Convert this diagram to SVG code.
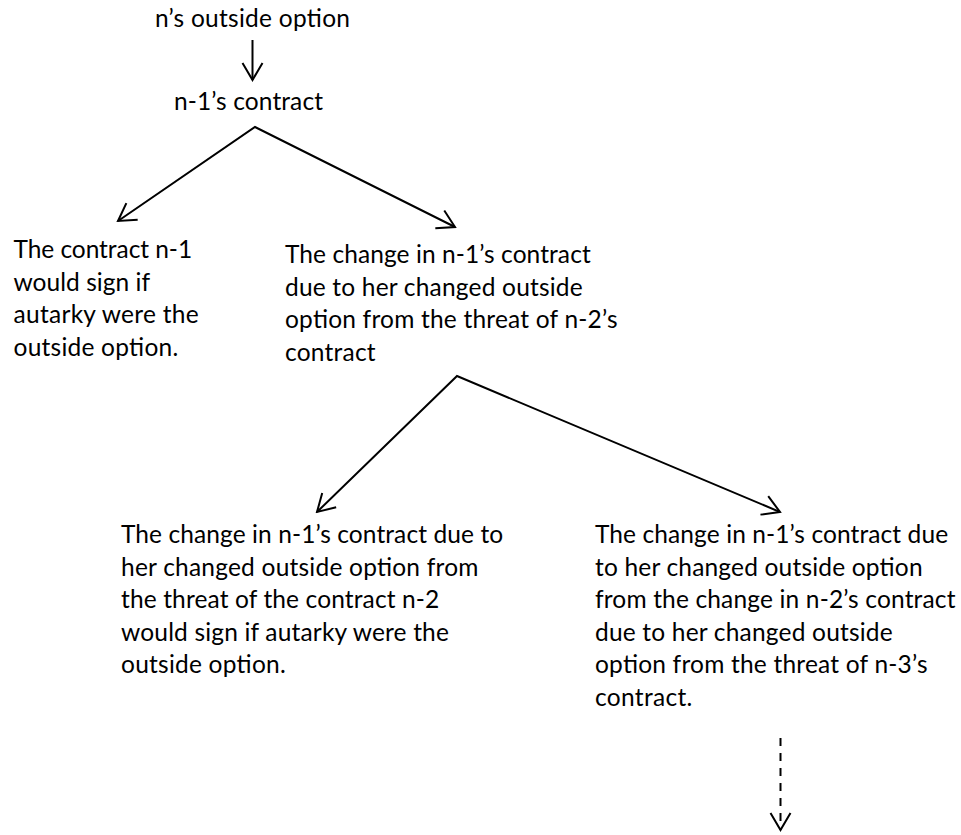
<svg xmlns="http://www.w3.org/2000/svg" width="961" height="835" viewBox="0 0 961 835">
<style>
text { font-family: Lato, "Open Sans", "Liberation Sans", sans-serif; font-size: 24.5px; fill: #000; }
.conn { fill: none; stroke: #000; stroke-width: 2; stroke-linejoin: miter; }
.dash { stroke-dasharray: 8 7; }
</style>
<defs>
<marker id="arrow" markerUnits="userSpaceOnUse" viewBox="-20 -12 22 24" refX="0" refY="0" markerWidth="22" markerHeight="24" orient="auto-start-reverse">
<path d="M-17,-10 L0,0 L-17,10" fill="none" stroke="#000" stroke-width="2"/>
</marker>
</defs>
<rect width="961" height="835" fill="#fff"/>
<g id="connectors">
<path class="conn" d="M252.5,40 L252.5,80" marker-end="url(#arrow)"/>
<path class="conn" d="M118,221 L255,127 L455,227" marker-start="url(#arrow)" marker-end="url(#arrow)"/>
<path class="conn" d="M317,512 L457,376 L780,512" marker-start="url(#arrow)" marker-end="url(#arrow)"/>
<path class="conn dash" d="M780.5,738 L780.5,830" marker-end="url(#arrow)"/>
</g>
<g id="node-outside">
<text x="155" y="27" textLength="195" lengthAdjust="spacing">n’s outside option</text>
</g>
<g id="node-contract">
<text x="174" y="110" textLength="149" lengthAdjust="spacing">n-1’s contract</text>
</g>
<g id="node-autarky">
<text x="13.5" y="258" textLength="178.6" lengthAdjust="spacing">The contract n-1</text>
<text x="13.5" y="290.5" textLength="136.6" lengthAdjust="spacing">would sign if</text>
<text x="13.5" y="323" textLength="185.2" lengthAdjust="spacing">autarky were the</text>
<text x="13.5" y="355.5" textLength="164.7" lengthAdjust="spacing">outside option.</text>
</g>
<g id="node-change">
<text x="285" y="263" textLength="305.7" lengthAdjust="spacing">The change in n-1’s contract</text>
<text x="285" y="295.5" textLength="297.7" lengthAdjust="spacing">due to her changed outside</text>
<text x="285" y="328" textLength="332.5" lengthAdjust="spacing">option from the threat of n-2’s</text>
<text x="285" y="360.5" textLength="90.6" lengthAdjust="spacing">contract</text>
</g>
<g id="node-change-autarky">
<text x="121" y="543" textLength="382.1" lengthAdjust="spacing">The change in n-1’s contract due to</text>
<text x="121" y="575.5" textLength="357.4" lengthAdjust="spacing">her changed outside option from</text>
<text x="121" y="608" textLength="318.3" lengthAdjust="spacing">the threat of the contract n-2</text>
<text x="121" y="640.5" textLength="327.9" lengthAdjust="spacing">would sign if autarky were the</text>
<text x="121" y="673" textLength="164.7" lengthAdjust="spacing">outside option.</text>
</g>
<g id="node-change-recursive">
<text x="595" y="543" textLength="353.1" lengthAdjust="spacing">The change in n-1’s contract due</text>
<text x="595" y="575.5" textLength="327.6" lengthAdjust="spacing">to her changed outside option</text>
<text x="595" y="608" textLength="360.5" lengthAdjust="spacing">from the change in n-2’s contract</text>
<text x="595" y="640.5" textLength="297.7" lengthAdjust="spacing">due to her changed outside</text>
<text x="595" y="673" textLength="332.5" lengthAdjust="spacing">option from the threat of n-3’s</text>
<text x="595" y="705.5" textLength="97.3" lengthAdjust="spacing">contract.</text>
</g>
</svg>
